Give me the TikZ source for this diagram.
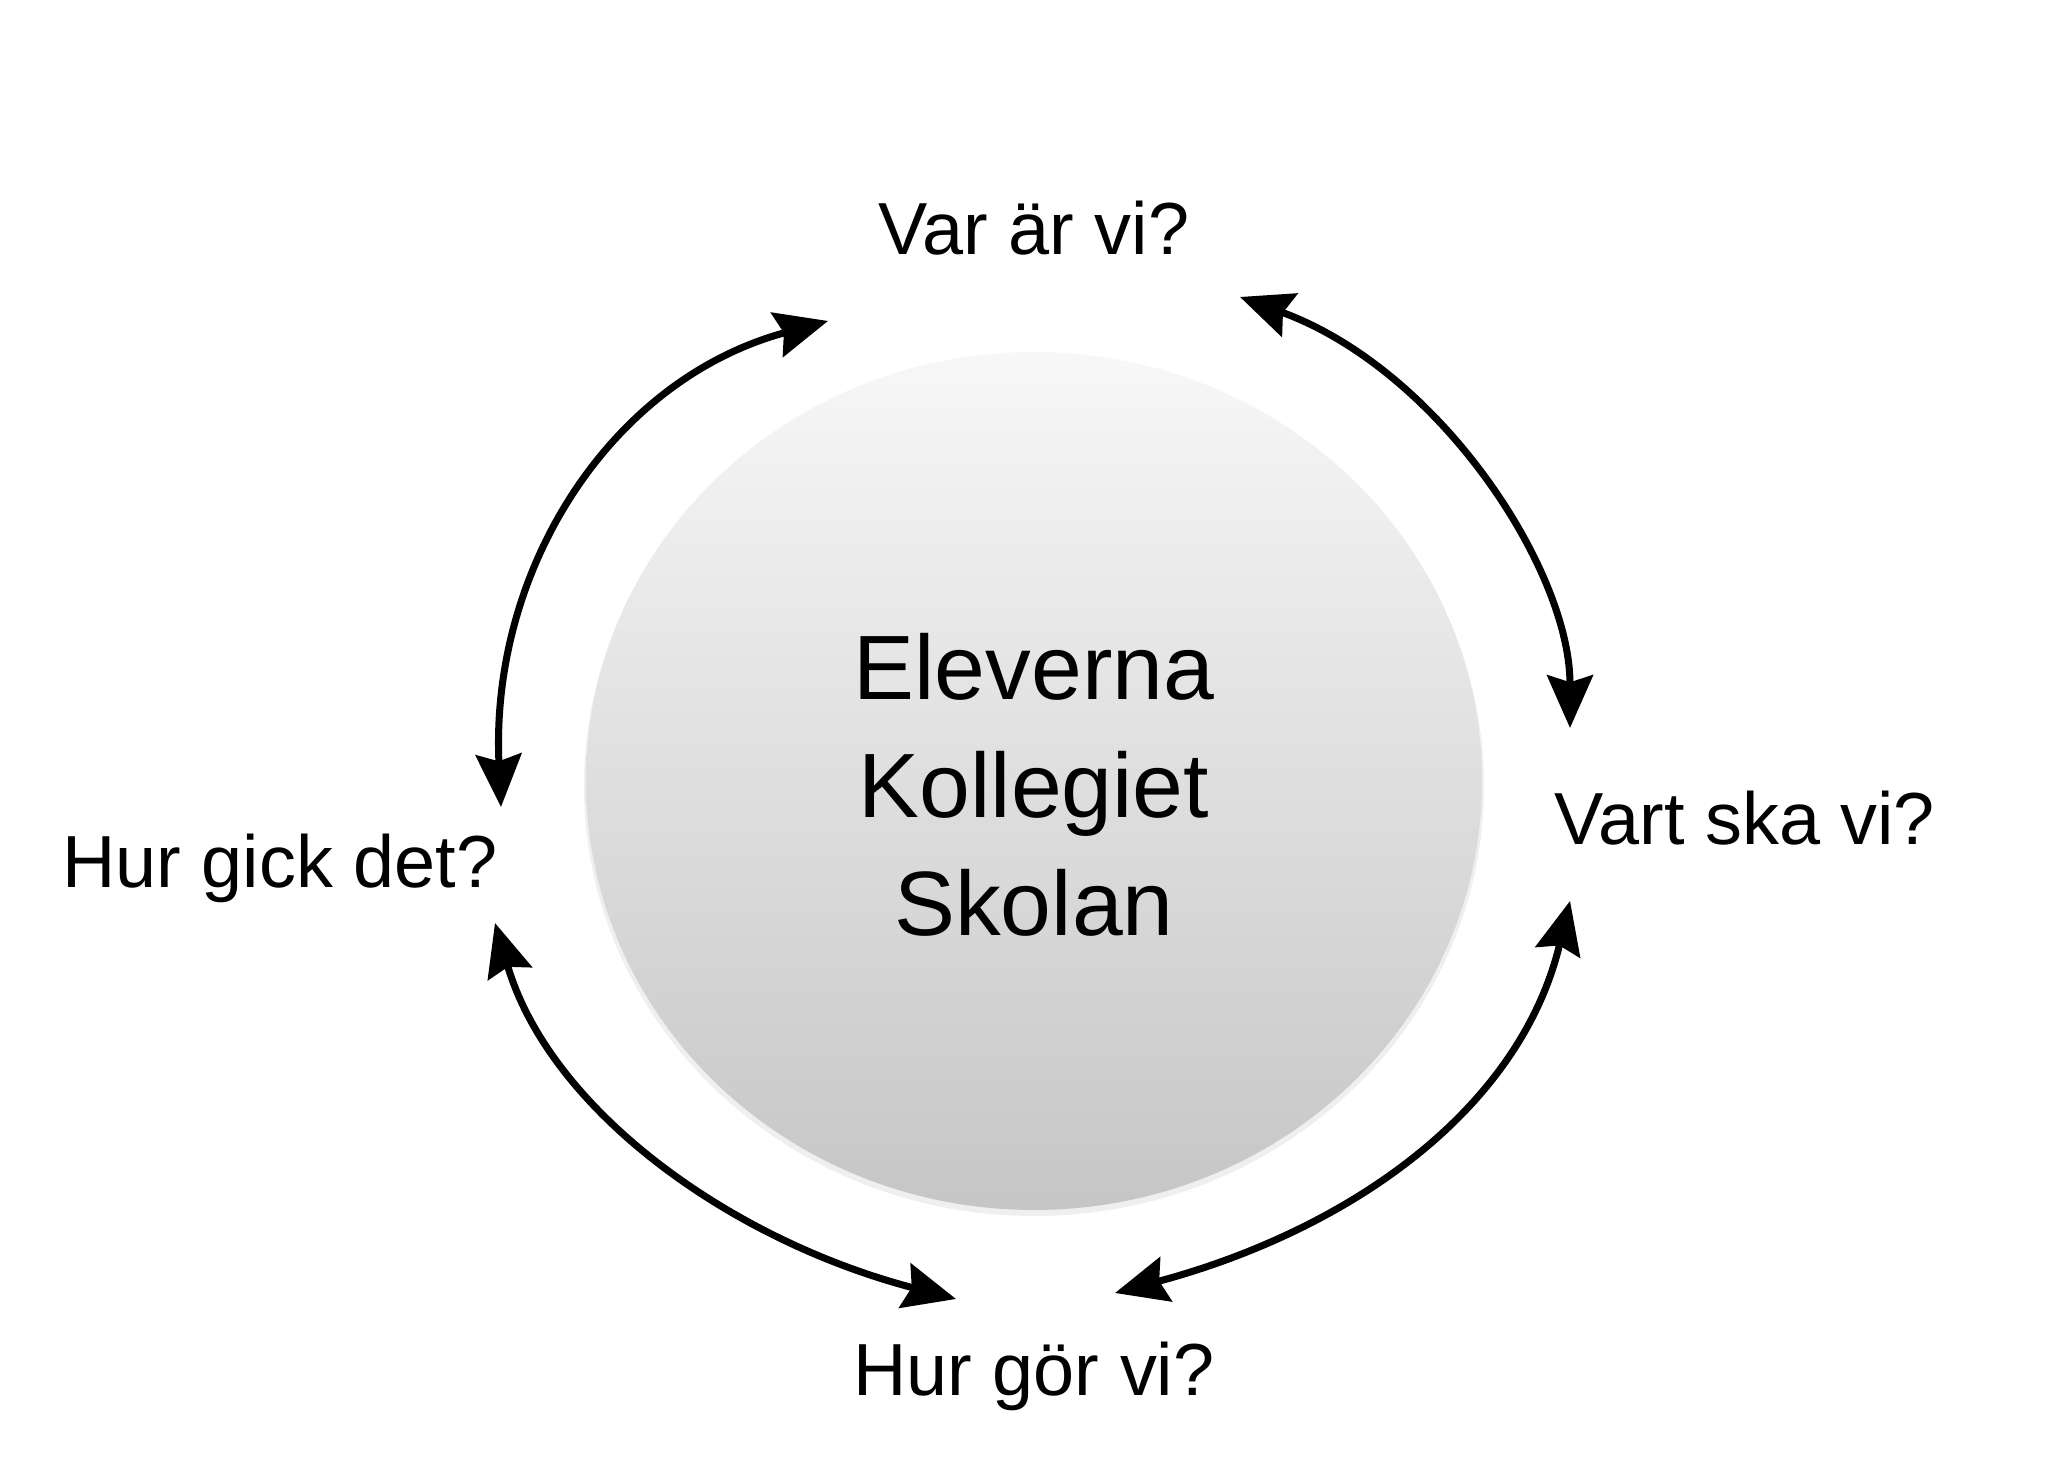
\documentclass[tikz,border=0pt]{standalone}
\usepackage{fontspec}
\setmainfont{Liberation Sans}
\usetikzlibrary{arrows.meta}
\begin{document}
\begin{tikzpicture}[
  lbl/.style={font=\fontsize{21}{25}\selectfont},
  conn/.style={line width=2pt,{Stealth[length=15pt,width=13pt,inset=2pt]}-{Stealth[length=15pt,width=13pt,inset=2pt]}}]
\useasboundingbox (0,0) rectangle (20.58,14.70);
\fill[gray!25,opacity=0.5] (10.34,6.84) ellipse (4.5 and 4.3);
\shade[top color=gray!6,bottom color=gray!45] (10.34,6.89) ellipse (4.48 and 4.29);
\node[font=\fontsize{26}{33.5}\selectfont,align=center] (c) at (10.34,6.85) {Eleverna\\Kollegiet\\Skolan};
\node[lbl] (t) at (10.34,12.42) {Var är vi?};
\node[lbl] (r) at (17.45,6.52) {Vart ska vi?};
\node[lbl] (l) at (2.80,6.02) {Hur gick det?};
\node[lbl] (b) at (10.34,0.94) {Hur gör vi?};
\coordinate (a1) at (8.28,11.49); \coordinate (a2) at (5.01,6.63);
\coordinate (b1) at (12.40,11.73); \coordinate (b2) at (15.70,7.42);
\coordinate (c1) at (15.70,5.69); \coordinate (c2) at (11.15,1.77);
\coordinate (d1) at (9.56,1.71); \coordinate (d2) at (4.95,5.47);
\draw[conn] (a1) .. controls (6.1,10.9) and (4.9,9.0) .. (a2);
\draw[conn] (b1) .. controls (14.4,11.0) and (15.7,9.0) .. (b2);
\draw[conn] (c1) .. controls (15.2,3.6) and (13.5,2.4) .. (c2);
\draw[conn] (d1) .. controls (7.3,2.3) and (5.5,3.6) .. (d2);
\end{tikzpicture}
\end{document}
